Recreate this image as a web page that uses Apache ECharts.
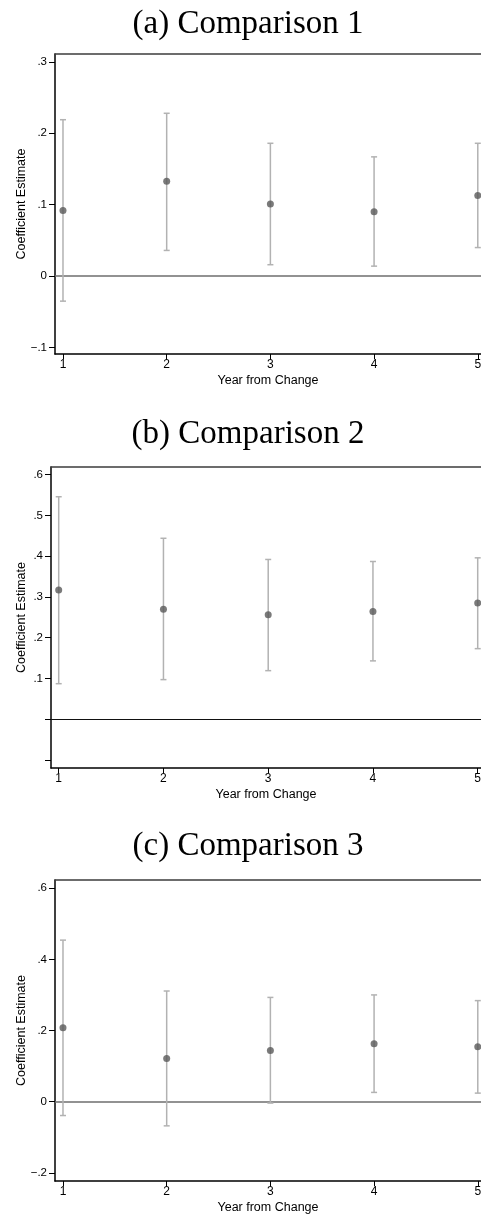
<!DOCTYPE html>
<html>
<head>
<meta charset="utf-8">
<script src="https://cdn.jsdelivr.net/npm/echarts@6/dist/echarts.min.js"></script>
<style>html,body{margin:0;padding:0;background:#fff;}#main{width:481px;height:1218px;}</style>
</head>
<body>
<div id="main"></div>
<script>
const years = [1, 2, 3, 4, 5];

const coefA = [0.092, 0.133, 0.101, 0.090, 0.113];
const upperA = [0.219, 0.228, 0.186, 0.167, 0.186];
const lowerA = [-0.035, 0.036, 0.016, 0.014, 0.040];

const coefB = [0.317, 0.270, 0.256, 0.264, 0.285];
const upperB = [0.546, 0.444, 0.392, 0.387, 0.396];
const lowerB = [0.087, 0.097, 0.119, 0.143, 0.173];

const coefC = [0.208, 0.121, 0.144, 0.163, 0.154];
const upperC = [0.454, 0.311, 0.293, 0.300, 0.284];
const lowerC = [-0.039, -0.068, -0.004, 0.026, 0.024];

const tickValsA = [-0.1, 0, 0.1, 0.2, 0.3];
const tickLabsA = ['\u2212.1', '0', '.1', '.2', '.3'];
const tickValsB = [-0.1, 0, 0.1, 0.2, 0.3, 0.4, 0.5, 0.6];
const tickLabsB = ['', '', '.1', '.2', '.3', '.4', '.5', '.6'];
const tickValsC = [-0.2, 0, 0.2, 0.4, 0.6];
const tickLabsC = ['\u2212.2', '0', '.2', '.4', '.6'];

const titles = ['(a) Comparison 1', '(b) Comparison 2', '(c) Comparison 3'];
const xName = 'Year from Change';
const yName = 'Coefficient Estimate';

const panels = [
  {coef: coefA, up: upperA, lo: lowerA, tv: tickValsA, tl: tickLabsA, ymin: -0.109, ymax: 0.311,
   grid: {left: 55, top: 54, right: 0, height: 300}, xmin: 0.923, xmax: 5.031, zeroColor: '#6e6e6e', zeroW: 1.5, titleY: 24, nameGap: 27},
  {coef: coefB, up: upperB, lo: lowerB, tv: tickValsB, tl: tickLabsB, ymin: -0.120, ymax: 0.619,
   grid: {left: 51, top: 467, right: 0, height: 301}, xmin: 0.9265, xmax: 5.0315, zeroColor: '#111', zeroW: 1, titleY: 434, nameGap: 23},
  {coef: coefC, up: upperC, lo: lowerC, tv: tickValsC, tl: tickLabsC, ymin: -0.223, ymax: 0.623,
   grid: {left: 55, top: 880, right: 0, height: 301}, xmin: 0.923, xmax: 5.031, zeroColor: '#6e6e6e', zeroW: 1.5, titleY: 846, nameGap: 27}
];

const font = 'Liberation Sans, Arial, sans-serif';
const grids = [], xAxes = [], yAxes = [], series = [], graphics = [];

panels.forEach((p, i) => {
  grids.push(Object.assign({show: false, containLabel: false, outerBoundsMode: 'none'}, p.grid));
  xAxes.push({
    type: 'value', gridIndex: i, min: p.xmin, max: p.xmax, position: 'bottom',
    name: xName, nameLocation: 'middle', nameGap: 20, nameMoveOverlap: false,
    nameTextStyle: {fontFamily: font, fontSize: 12.5, color: '#000'},
    axisLine: {show: true, onZero: false, lineStyle: {color: '#000', width: 1.5}},
    axisTick: {show: true, length: 5, lineStyle: {color: '#000', width: 1}, customValues: years},
    axisLabel: {show: true, margin: 5, fontFamily: font, fontSize: 12, color: '#000', customValues: years,
      formatter: v => String(Math.round(v))},
    splitLine: {show: false}
  });
  // top frame of the plot region
  xAxes.push({
    type: 'value', gridIndex: i, min: p.xmin, max: p.xmax, position: 'top',
    axisLine: {show: true, onZero: false, lineStyle: {color: '#3c3c3c', width: 1.5}},
    axisTick: {show: false}, axisLabel: {show: false}, splitLine: {show: false}
  });
  const tv = p.tv, tl = p.tl;
  yAxes.push({
    type: 'value', gridIndex: i, min: p.ymin, max: p.ymax,
    name: yName, nameLocation: 'middle', nameGap: p.nameGap, nameRotate: 90, nameMoveOverlap: false,
    nameTextStyle: {fontFamily: font, fontSize: 12.5, color: '#000'},
    axisLine: {show: true, onZero: false, lineStyle: {color: '#000', width: 1.5}},
    axisTick: {show: true, length: 6, lineStyle: {color: '#000', width: 1}, customValues: tv},
    axisLabel: {show: true, margin: 8, fontFamily: font, fontSize: 11.5, color: '#000', customValues: tv,
      formatter: v => { let k = 0, d = Infinity; tv.forEach((t, j) => { if (Math.abs(t - v) < d) { d = Math.abs(t - v); k = j; } }); return tl[k]; }},
    splitLine: {show: false}
  });
  series.push({
    type: 'custom', xAxisIndex: 2 * i, yAxisIndex: i, z: 2,
    data: years.map((y, j) => [y, p.lo[j], p.up[j]]),
    encode: {x: 0, y: [1, 2]},
    renderItem: (params, api) => {
      const x = api.value(0);
      const a = api.coord([x, api.value(2)]);
      const b = api.coord([x, api.value(1)]);
      const st = {stroke: '#b2b2b2', lineWidth: 1.5};
      return {type: 'group', children: [
        {type: 'line', shape: {x1: a[0], y1: a[1], x2: b[0], y2: b[1]}, style: st},
        {type: 'line', shape: {x1: a[0] - 3, y1: a[1], x2: a[0] + 3, y2: a[1]}, style: st},
        {type: 'line', shape: {x1: b[0] - 3, y1: b[1], x2: b[0] + 3, y2: b[1]}, style: st}
      ]};
    },
    silent: true
  });
  series.push({
    type: 'scatter', xAxisIndex: 2 * i, yAxisIndex: i, z: 3,
    data: years.map((y, j) => [y, p.coef[j]]),
    symbol: 'circle', symbolSize: 7,
    itemStyle: {color: '#595959'},
    markLine: {silent: true, symbol: 'none', label: {show: false},
      lineStyle: {color: p.zeroColor, width: p.zeroW, type: 'solid'},
      data: [{yAxis: 0}], z: 1},
    silent: true
  });
  graphics.push({type: 'text', x: 248, y: p.titleY,
    style: {text: titles[i], font: '33px "Liberation Serif", "DejaVu Serif", serif', fill: '#000',
      textAlign: 'center', textVerticalAlign: 'middle'}});
});

const chart = echarts.init(document.getElementById('main'), null, {renderer: 'canvas'});
chart.setOption({
  animation: false,
  backgroundColor: '#fff',
  grid: grids, xAxis: xAxes, yAxis: yAxes, series: series,
  graphic: graphics
});
</script>
</body>
</html>
